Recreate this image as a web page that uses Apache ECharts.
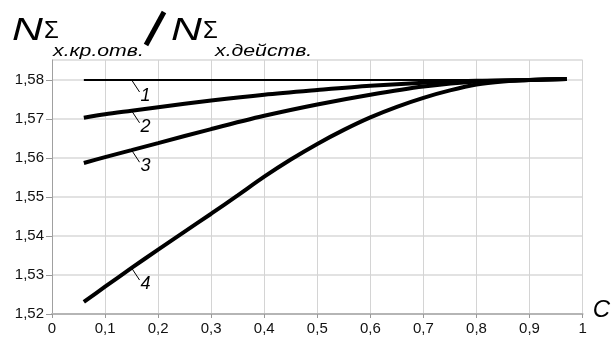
<!DOCTYPE html>
<html>
<head>
<meta charset="utf-8">
<script src="https://cdn.jsdelivr.net/npm/echarts@6/dist/echarts.min.js"></script>
<style>
  html, body { margin: 0; padding: 0; background: #fff; }
  #chart { width: 613px; height: 341px; }
</style>
</head>
<body>
<div id="chart"></div>
<script>
// values (C -> ratio)
const xTicks = [0, 0.1, 0.2, 0.3, 0.4, 0.5, 0.6, 0.7, 0.8, 0.9, 1];
const yTicks = [1.52, 1.53, 1.54, 1.55, 1.56, 1.57, 1.58];

const curve1 = [[0.06, 1.58], [0.15, 1.58], [0.5, 1.58], [0.97, 1.58]];
const curve2 = [[0.06, 1.5703], [0.1, 1.5712], [0.15, 1.5721], [0.2, 1.5730], [0.3, 1.5747], [0.4, 1.5762],
  [0.5, 1.5774], [0.6, 1.5785], [0.7, 1.5793], [0.8, 1.5798], [0.9, 1.5800], [0.97, 1.5802]];
const curve3 = [[0.06, 1.5587], [0.1, 1.5602], [0.15, 1.5620], [0.2, 1.5638], [0.3, 1.5674], [0.4, 1.5708],
  [0.5, 1.5737], [0.6, 1.5762], [0.7, 1.5783], [0.8, 1.5796], [0.9, 1.5800], [0.97, 1.5802]];
const curve4 = [[0.06, 1.5231], [0.1, 1.5270], [0.15, 1.5318], [0.2, 1.5365], [0.25, 1.5411], [0.3, 1.5457],
  [0.35, 1.5504], [0.4, 1.5552], [0.45, 1.5596], [0.5, 1.5636], [0.55, 1.5672], [0.6, 1.5704],
  [0.65, 1.5731], [0.7, 1.5754], [0.75, 1.5773], [0.8, 1.5788], [0.85, 1.5796], [0.9, 1.5800], [0.97, 1.5802]];

const curveNames = ['1', '2', '3', '4'];
const curves = [curve1, curve2, curve3, curve4];
const labelAt = 0.15;

const chart = echarts.init(document.getElementById('chart'));

const fmt = v => String(+v.toFixed(2)).replace('.', ',');

// short leader from the curve down-right, with the curve number at its end
function leader(data) {
    const p = data.find(d => d[0] === labelAt);
    return [[{ coord: [p[0], p[1]] }, { coord: [p[0] + 0.015, p[1] - 0.0031] }]];
}

const FONT = 'Liberation Sans';
function txt(text, left, top, size, italic, sx) {
    return {
        type: 'text', left: left, top: top, scaleX: sx || 1,
        style: { text: text, fontSize: size, fontStyle: italic ? 'italic' : 'normal', fontFamily: FONT, fill: '#000' }
    };
}
const title = [
    txt('N', 12, 16, 31, true, 1.38),
    txt('Σ', 44, 19, 24, false, 1),
    txt('х.кр.отв.', 53, 43, 17, true, 1.25),
    { type: 'line', shape: { x1: 146, y1: 45, x2: 164, y2: 12 }, style: { stroke: '#000', lineWidth: 5 } },
    txt('N', 171, 16, 31, true, 1.38),
    txt('Σ', 203, 19, 24, false, 1),
    txt('х.действ.', 215, 43, 17, true, 1.25)
];

const option = {
    animation: false,
    backgroundColor: '#fff',
    textStyle: { fontFamily: FONT },
    grid: { left: 52, right: 16, top: 60, bottom: 27 },
    graphic: title,
    xAxis: {
        type: 'value',
        min: 0,
        max: 1,
        interval: 0.1,
        name: 'C',
        nameLocation: 'end',
        nameGap: 8,
        nameTextStyle: { fontStyle: 'italic', fontSize: 24, color: '#000', verticalAlign: 'bottom', padding: [0, 0, -8, 0] },
        axisLine: { lineStyle: { color: '#b5b5b5', width: 2 } },
        axisTick: { show: true, length: 4, lineStyle: { color: '#999' } },
        axisLabel: { color: '#111', fontSize: 15, margin: 7, formatter: fmt },
        splitLine: { show: true, lineStyle: { color: '#d4d4d4', width: 1 } }
    },
    yAxis: {
        type: 'value',
        min: 1.52,
        max: 1.5851,
        interval: 0.01,
        axisLine: { show: true, lineStyle: { color: '#a0a0a0', width: 1 } },
        axisTick: { show: true, length: 6, lineStyle: { color: '#999' } },
        axisLabel: { color: '#111', fontSize: 15, margin: 8, showMaxLabel: false, formatter: fmt },
        splitLine: { show: true, lineStyle: { color: '#e2e2e2', width: 2 } }
    },
    series: curves.map((c, i) => {
        const seg = leader(c);
        return {
            name: curveNames[i],
            type: 'line',
            data: c,
            smooth: 0.3,
            symbol: 'none',
            lineStyle: { color: '#000', width: i === 0 ? 2 : 4 },
            markLine: {
                silent: true,
                symbol: 'none',
                lineStyle: { color: '#000', width: 1, type: 'solid' },
                label: { show: false },
                data: seg
            },
            markPoint: {
                silent: true,
                symbol: 'circle',
                symbolSize: 0,
                label: {
                    show: true,
                    position: 'inside',
                    offset: [6, 4],
                    formatter: curveNames[i],
                    color: '#000',
                    fontStyle: 'italic',
                    fontSize: 18
                },
                data: [{ coord: seg[0][1].coord }]
            }
        };
    })
};

chart.setOption(option);
</script>
</body>
</html>
